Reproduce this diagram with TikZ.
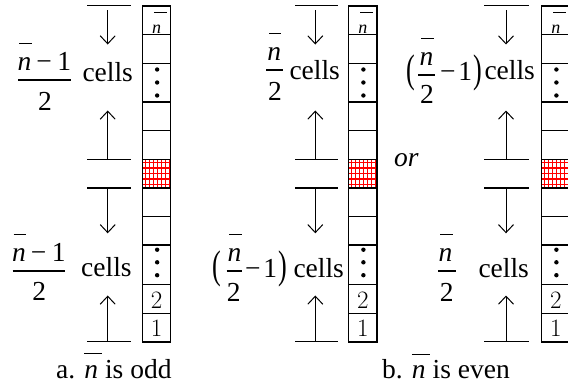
\documentclass[tikz,border=0pt]{standalone}
\usepackage{graphicx}
\usepackage{fontspec}
\setmainfont{Liberation Serif}
\usetikzlibrary{arrows.meta}
% n with an over-bar: #1 offset, #2 raise, #3 bar width
\newcommand\nbr[3]{\makebox[0pt][l]{\hspace{#1}\rule[#2]{#3}{0.9pt}}\textit{n}}
\newcommand\tallp[1]{\scalebox{0.95}[1.45]{#1}}
\tikzset{
  txt/.style={inner sep=0pt, font=\fontsize{27.5}{33}\selectfont},
  smalltxt/.style={inner sep=0pt, font=\fontsize{18}{22}\selectfont},
  cellnum/.style={inner sep=0pt, font=\fontsize{25}{30}\fontfamily{lmr}\selectfont},
  cellline/.style={line width=1.2pt},
  barline/.style={line width=1.2pt},
  arr/.style={line width=1pt, -{Straight Barb[length=8pt,width=15pt,line width=1pt]}},
  fbar/.style={line width=1.1pt},
  dotmark/.style={circle, fill, inner sep=0pt, minimum size=4.4pt},
  redgrid/.style={red, line width=1.1pt}
}
\begin{document}
\begin{tikzpicture}[x=1pt,y=-1pt]
\useasboundingbox (0,0) rectangle (568,391);
\clip (0,0) rectangle (568,391);

% ---------- the three columns of cells, bars and arrows ----------
\foreach \c/\L/\bl/\br/\ax in {1/142.25/87.3/130.7/107.7, 2/348.5/295.3/337.7/315.3, 3/541.5/484/529.3/506}{
  % red grid cell
  \foreach \gx in {3,7,...,27} \draw[redgrid] (\L+\gx,159.3) -- (\L+\gx,188);
  \foreach \gy in {162.5,168,173.5,179,184.5} \draw[redgrid] (\L,\gy) -- (\L+28.5,\gy);
  % column outline and cell separators
  \draw[cellline] (\L,6) rectangle (\L+28.5,342);
  \foreach \ry in {34.7,63.3,102,130.7,159.3,188,216.5,245,284.7,313.3}
    \draw[cellline] (\L,\ry) -- (\L+28.5,\ry);
  % dots
  \foreach \dy [count=\i] in {69.5,82.5,95.5,249.7,262.3,275.2}
    \node[dotmark] (dot\c-\i) at (\L+14.9,\dy) {};
  % cell labels
  \node[smalltxt, anchor=base] (top\c) at (\L+14.25,33) {\nbr{0.1em}{1.1em}{0.72em}};
  \node[cellnum, anchor=base] (two\c) at (\L+14.25,308.3) {2};
  \node[cellnum, anchor=base] (one\c) at (\L+14.25,336.7) {1};
  % bars
  \foreach \by/\k in {5.5/a,159.3/b,188/c,341.7/d}{
    \coordinate (bl\c\k) at (\bl,\by);
    \coordinate (br\c\k) at (\br,\by);
    \draw[barline] (bl\c\k) -- (br\c\k);
  }
  % arrows
  \foreach \sy/\ey/\k in {10/44.5/a, 159.3/110.5/b, 188/233.3/c, 341.7/295.5/d}{
    \coordinate (as\c\k) at (\ax,\sy);
    \coordinate (ae\c\k) at (\ax,\ey);
    \draw[arr] (as\c\k) -- (ae\c\k);
  }
}

% ---------- column a, top label ----------
\node[txt, anchor=base] (c1tn) at (44.4,70) {\nbr{0.06em}{0.95em}{0.45em}\hspace{0.18em}−\hspace{0.2em}1};
\coordinate (c1tl) at (18,80); \coordinate (c1tr) at (70.7,80);
\draw[fbar] (c1tl) -- (c1tr);
\node[txt, anchor=base] (c1td) at (45,110) {2};
\node[txt, anchor=base west] (c1tc) at (82.3,81) {cells};

% ---------- column a, bottom label ----------
\node[txt, anchor=base] (c1bn) at (38.8,261) {\nbr{0.06em}{0.95em}{0.45em}\hspace{0.18em}−\hspace{0.2em}1};
\coordinate (c1bl) at (12.7,271); \coordinate (c1br) at (65,271);
\draw[fbar] (c1bl) -- (c1br);
\node[txt, anchor=base] (c1bd) at (39.3,300.7) {2};
\node[txt, anchor=base west] (c1bc) at (81,276) {cells};

% ---------- column b1, top label ----------
\node[txt, anchor=base] (c2tn) at (274.3,60) {\nbr{0.06em}{0.95em}{0.45em}};
\coordinate (c2tl) at (266,70); \coordinate (c2tr) at (283.3,70);
\draw[fbar] (c2tl) -- (c2tr);
\node[txt, anchor=base] (c2td) at (275,100) {2};
\node[txt, anchor=base west] (c2tc) at (289.3,79) {cells};

% ---------- column b1, bottom label ----------
\node[txt, anchor=base west] (c2bo) at (212,278) {\tallp{(}};
\node[txt, anchor=base] (c2bn) at (234.5,261) {\nbr{0.06em}{0.95em}{0.45em}};
\coordinate (c2bl) at (226.7,271); \coordinate (c2br) at (242.3,271);
\draw[fbar] (c2bl) -- (c2br);
\node[txt, anchor=base] (c2bd) at (233.7,301) {2};
\node[txt, anchor=base west] (c2bm) at (245,277.5) {−\hspace{0.1em}1};
\node[txt, anchor=base east] (c2bx) at (287,278) {\tallp{)}};
\node[txt, anchor=base west] (c2bc) at (293.3,277.7) {cells};

% ---------- or ----------
\node[txt, anchor=base west] (orword) at (394,166) {\textit{or}};

% ---------- column b2, top label ----------
\node[txt, anchor=base west] (c3to) at (406,82) {\tallp{(}};
\node[txt, anchor=base] (c3tn) at (426.5,65) {\nbr{0.06em}{0.95em}{0.45em}};
\coordinate (c3tl) at (418.3,75); \coordinate (c3tr) at (435,75);
\draw[fbar] (c3tl) -- (c3tr);
\node[txt, anchor=base] (c3td) at (427,103.3) {2};
\node[txt, anchor=base west] (c3tm) at (440,80) {−\hspace{0.1em}1};
\node[txt, anchor=base east] (c3tx) at (482.5,82) {\tallp{)}};
\node[txt, anchor=base west] (c3tc) at (484.3,79) {cells};

% ---------- column b2, bottom label ----------
\node[txt, anchor=base] (c3bn) at (445.5,261) {\nbr{0.06em}{0.95em}{0.45em}};
\coordinate (c3bl) at (438.3,271); \coordinate (c3br) at (455.7,271);
\draw[fbar] (c3bl) -- (c3br);
\node[txt, anchor=base] (c3bd) at (446.7,301.7) {2};
\node[txt, anchor=base west] (c3bc) at (478.3,277.3) {cells};

% ---------- captions ----------
\node[txt, anchor=base west] (capa) at (56,378) {a. \nbr{0em}{0.87em}{0.65em} is odd};
\node[txt, anchor=base west] (capb) at (382,378.5) {b. \nbr{0em}{0.87em}{0.65em} is even};
\end{tikzpicture}
\end{document}
